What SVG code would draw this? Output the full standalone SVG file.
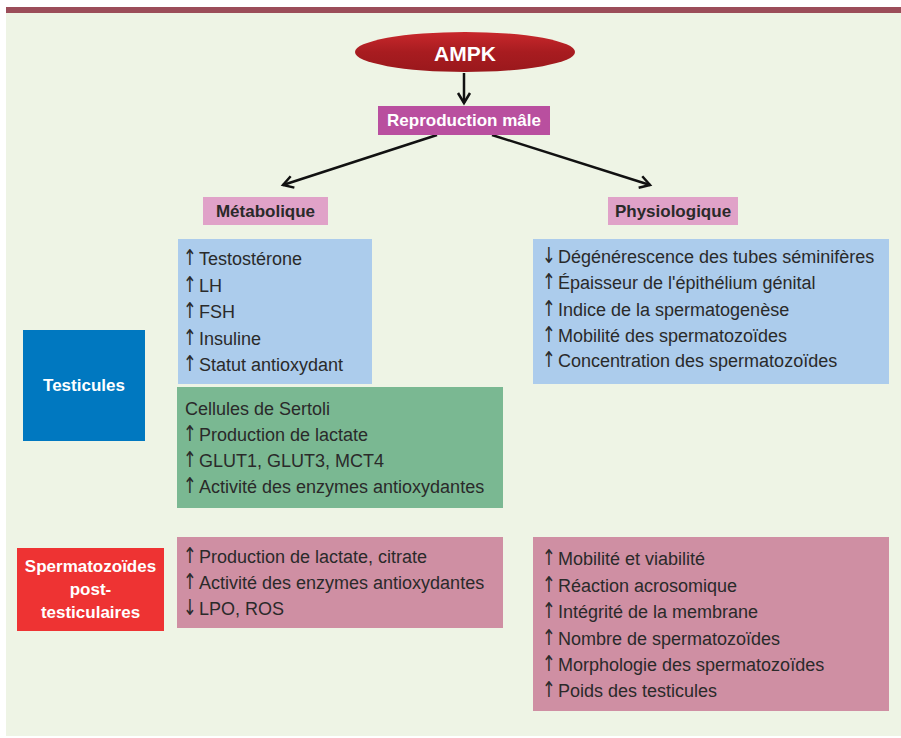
<svg xmlns="http://www.w3.org/2000/svg" width="901" height="738" viewBox="0 0 901 738">
<defs>
<style>
.body{font-family:"Liberation Sans",Arial,sans-serif;font-size:18px;fill:#2a2a2a}
.arw{font-family:"DejaVu Sans",sans-serif;font-size:22px;fill:#2a2a2a}
.head{font-family:"Liberation Sans",Arial,sans-serif;font-size:17px;font-weight:bold;text-anchor:middle}
.w{fill:#ffffff}
.d{fill:#2a2a2a}
.conn{stroke:#111111;stroke-width:2.5;fill:none}
</style>
<linearGradient id="gAmpk" x1="0" y1="0" x2="0" y2="1">
<stop offset="0" stop-color="#c8282c"/>
<stop offset="0.5" stop-color="#a81c20"/>
<stop offset="1" stop-color="#9a181c"/>
</linearGradient>
<marker id="arr" markerUnits="userSpaceOnUse" markerWidth="16" markerHeight="16" refX="12" refY="8" orient="auto">
<path d="M2,2 L12,8 L2,14" fill="none" stroke="#111111" stroke-width="2.5" stroke-linejoin="miter"/>
</marker>
</defs>
<rect x="0" y="0" width="901" height="738" fill="#ffffff"/>
<rect x="6" y="13" width="895" height="723" fill="#eef4e5"/>
<rect x="6" y="7" width="895" height="6" fill="#9b4d59"/>

<g id="connectors">
<line class="conn" x1="464" y1="73" x2="464" y2="103" marker-end="url(#arr)"/>
<line class="conn" x1="437" y1="135" x2="283" y2="185" marker-end="url(#arr)"/>
<line class="conn" x1="492" y1="135" x2="650" y2="185" marker-end="url(#arr)"/>
</g>

<g id="ampk">
<ellipse cx="465" cy="52" rx="110" ry="20" fill="url(#gAmpk)"/>
<text class="head w" x="465" y="61" style="font-size:21px">AMPK</text>
</g>

<g id="reproduction">
<rect x="378" y="106" width="172" height="29" fill="#b94f9f"/>
<text class="head w" x="464" y="126">Reproduction mâle</text>
</g>

<g id="metabolique">
<rect x="203" y="197" width="125" height="28" fill="#e0a2c8"/>
<text class="head d" x="265.5" y="217">Métabolique</text>
</g>

<g id="physiologique">
<rect x="608" y="197" width="130" height="28" fill="#e0a2c8"/>
<text class="head d" x="673" y="217">Physiologique</text>
</g>

<g id="testicules">
<rect x="23" y="330" width="122" height="111" fill="#0078c0"/>
<text class="head w" x="84" y="391">Testicules</text>
</g>

<g id="spermatozoides">
<rect x="17" y="548" width="147" height="83" fill="#ee3333"/>
<text class="head w" x="90.5" y="572">Spermatozoïdes</text>
<text class="head w" x="90.5" y="595">post-</text>
<text class="head w" x="90.5" y="618">testiculaires</text>
</g>

<g id="meta-testicules">
<rect x="178" y="239" width="194" height="145" fill="#acccec"/>
<text class="arw" transform="translate(183,265) scale(0.75,1)">↑</text>
<text class="body" x="199" y="265">Testostérone</text>
<text class="arw" transform="translate(183,292) scale(0.75,1)">↑</text>
<text class="body" x="199" y="292">LH</text>
<text class="arw" transform="translate(183,318) scale(0.75,1)">↑</text>
<text class="body" x="199" y="318">FSH</text>
<text class="arw" transform="translate(183,345) scale(0.75,1)">↑</text>
<text class="body" x="199" y="345">Insuline</text>
<text class="arw" transform="translate(183,371) scale(0.75,1)">↑</text>
<text class="body" x="199" y="371">Statut antioxydant</text>
</g>

<g id="sertoli">
<rect x="177" y="387" width="326" height="121" fill="#7ab892"/>
<text class="body" x="185" y="415">Cellules de Sertoli</text>
<text class="arw" transform="translate(183,441) scale(0.75,1)">↑</text>
<text class="body" x="199" y="441">Production de lactate</text>
<text class="arw" transform="translate(183,467) scale(0.75,1)">↑</text>
<text class="body" x="199" y="467">GLUT1, GLUT3, MCT4</text>
<text class="arw" transform="translate(183,493) scale(0.75,1)">↑</text>
<text class="body" x="199" y="493">Activité des enzymes antioxydantes</text>
</g>

<g id="physio-testicules">
<rect x="533" y="239" width="356" height="145" fill="#acccec"/>
<text class="arw" transform="translate(542,263) scale(0.75,1)">↓</text>
<text class="body" x="558" y="263">Dégénérescence des tubes séminifères</text>
<text class="arw" transform="translate(542,289) scale(0.75,1)">↑</text>
<text class="body" x="558" y="289">Épaisseur de l'épithélium génital</text>
<text class="arw" transform="translate(542,316) scale(0.75,1)">↑</text>
<text class="body" x="558" y="316">Indice de la spermatogenèse</text>
<text class="arw" transform="translate(542,342) scale(0.75,1)">↑</text>
<text class="body" x="558" y="342">Mobilité des spermatozoïdes</text>
<text class="arw" transform="translate(542,367) scale(0.75,1)">↑</text>
<text class="body" x="558" y="367">Concentration des spermatozoïdes</text>
</g>

<g id="meta-sperm">
<rect x="177" y="537" width="326" height="91" fill="#cf8fa3"/>
<text class="arw" transform="translate(183,563) scale(0.75,1)">↑</text>
<text class="body" x="199" y="563">Production de lactate, citrate</text>
<text class="arw" transform="translate(183,589) scale(0.75,1)">↑</text>
<text class="body" x="199" y="589">Activité des enzymes antioxydantes</text>
<text class="arw" transform="translate(183,615) scale(0.75,1)">↓</text>
<text class="body" x="199" y="615">LPO, ROS</text>
</g>

<g id="physio-sperm">
<rect x="533" y="537" width="356" height="174" fill="#cf8fa3"/>
<text class="arw" transform="translate(542,565) scale(0.75,1)">↑</text>
<text class="body" x="558" y="565">Mobilité et viabilité</text>
<text class="arw" transform="translate(542,592) scale(0.75,1)">↑</text>
<text class="body" x="558" y="592">Réaction acrosomique</text>
<text class="arw" transform="translate(542,618) scale(0.75,1)">↑</text>
<text class="body" x="558" y="618">Intégrité de la membrane</text>
<text class="arw" transform="translate(542,645) scale(0.75,1)">↑</text>
<text class="body" x="558" y="645">Nombre de spermatozoïdes</text>
<text class="arw" transform="translate(542,671) scale(0.75,1)">↑</text>
<text class="body" x="558" y="671">Morphologie des spermatozoïdes</text>
<text class="arw" transform="translate(542,697) scale(0.75,1)">↑</text>
<text class="body" x="558" y="697">Poids des testicules</text>
</g>
</svg>
